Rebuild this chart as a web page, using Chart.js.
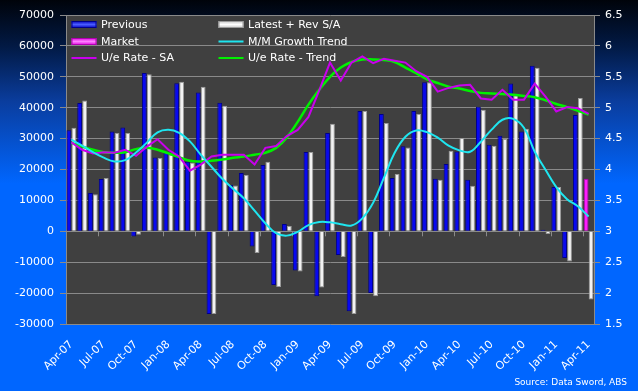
<!DOCTYPE html>
<html>
<head>
<meta charset="utf-8">
<script src="https://cdn.jsdelivr.net/npm/chart.js@4.4.1/dist/chart.umd.min.js"></script>
<style>
  html, body { margin: 0; padding: 0; background: #0066ff; }
  #wrap { position: relative; width: 638px; height: 391px; }
  canvas { display: block; }
</style>
</head>
<body>
<div id="wrap"><canvas id="c" width="638" height="391"></canvas></div>
<script>
const categories = ['Apr-07','May-07','Jun-07','Jul-07','Aug-07','Sep-07','Oct-07','Nov-07','Dec-07',
  'Jan-08','Feb-08','Mar-08','Apr-08','May-08','Jun-08','Jul-08','Aug-08','Sep-08','Oct-08','Nov-08','Dec-08',
  'Jan-09','Feb-09','Mar-09','Apr-09','May-09','Jun-09','Jul-09','Aug-09','Sep-09','Oct-09','Nov-09','Dec-09',
  'Jan-10','Feb-10','Mar-10','Apr-10','May-10','Jun-10','Jul-10','Aug-10','Sep-10','Oct-10','Nov-10','Dec-10',
  'Jan-11','Feb-11','Mar-11','Apr-11'];

const xTickLabels = ['Apr-07','Jul-07','Oct-07','Jan-08','Apr-08','Jul-08','Oct-08','Jan-09','Apr-09',
  'Jul-09','Oct-09','Jan-10','Apr-10','Jul-10','Oct-10','Jan-11','Apr-11'];
const leftTicks = [-30000,-20000,-10000,0,10000,20000,30000,40000,50000,60000,70000];
const rightTicks = [1.5,2,2.5,3,3.5,4,4.5,5,5.5,6,6.5];

const previous = [32700,41500,12400,16900,32300,33600,-1650,51200,23900,25500,47900,22500,44950,-26800,41600,15100,18900,-4900,21450,-17400,2350,
  -12650,25650,-21050,31800,-7700,-25900,38900,-19970,38000,17250,27500,38900,
  48200,17000,21800,25860,16700,40300,28000,30900,47800,32300,53600,500,
  14350,-8650,37650,null];
const latest = [33500,42300,11950,17250,31800,31800,-1100,50800,23700,24800,48400,22300,46800,-26800,40650,14850,18200,-7000,22500,-18000,1700,
  -13000,25650,-18150,34800,-8300,-26800,38900,-21050,35050,18550,27150,38000,
  48200,16700,26100,30200,14750,39350,27700,29870,44000,33200,52950,-900,
  14350,-9750,43100,-22100];
const market = [null,null,null,null,null,null,null,null,null,null,null,null,null,null,null,null,null,null,null,null,null,
  null,null,null,null,null,null,null,null,null,null,null,null,
  null,null,null,null,null,null,null,null,null,null,null,null,
  null,null,null,17000];
const mmGrowthTrend = [29640,27700,25600,23820,22620,23010,25470,28700,32040,32850,31880,29090,24790,20900,17000,13800,10700,6700,2600,-600,-1400,
  -200,2000,3000,2900,2300,1900,4200,9200,17300,25400,30600,32650,
  32100,30300,27700,26200,25760,29000,32900,36100,36400,33500,25760,19900,
  14300,10400,8100,4800];
const ueRateSA = [4.44,4.32,4.26,4.28,4.27,4.32,4.22,4.37,4.49,4.32,4.21,3.98,4.08,4.21,4.24,4.24,4.24,4.08,4.35,4.38,4.54,
  4.64,4.85,5.28,5.73,5.44,5.73,5.83,5.72,5.79,5.76,5.73,5.59,
  5.50,5.26,5.32,5.36,5.37,5.15,5.13,5.29,5.13,5.13,5.39,5.18,
  4.94,5.01,4.99,4.90];
const ueRateTrend = [4.43,4.37,4.32,4.28,4.27,4.28,4.33,4.35,4.32,4.26,4.20,4.14,4.13,4.14,4.16,4.19,4.21,4.24,4.27,4.35,4.52,
  4.77,5.05,5.29,5.50,5.65,5.74,5.78,5.78,5.77,5.74,5.65,5.56,
  5.46,5.40,5.34,5.31,5.27,5.24,5.23,5.22,5.21,5.19,5.17,5.12,
  5.06,5.01,4.95,4.89];

const FONT = 'DejaVu Sans';
const GRID = '#8a8a8a';

const bgPlugin = {
  id: 'bg',
  beforeDraw(chart) {
    const {ctx, width, height, chartArea} = chart;
    ctx.save();
    const g = ctx.createLinearGradient(0, 0, 0, height);
    g.addColorStop(0, '#00030a');
    g.addColorStop(0.12, '#021a45');
    g.addColorStop(0.26, '#0a3d9e');
    g.addColorStop(0.47, '#0066ff');
    g.addColorStop(1, '#0066ff');
    ctx.fillStyle = g;
    ctx.fillRect(0, 0, width, height);
    ctx.fillStyle = '#404040';
    ctx.fillRect(chartArea.left, chartArea.top, chartArea.right - chartArea.left, chartArea.bottom - chartArea.top);
    ctx.restore();
  },
  beforeDatasetsDraw(chart) {
    // category tick marks on the zero line
    const {ctx} = chart;
    const xs = chart.scales.x, ys = chart.scales.y;
    const y0 = ys.getPixelForValue(0);
    ctx.save();
    ctx.strokeStyle = GRID;
    ctx.lineWidth = 1;
    for (let i = 3; i < categories.length; i += 3) {
      const x = Math.round((xs.getPixelForValue(i - 1) + xs.getPixelForValue(i)) / 2) + 0.5;
      ctx.beginPath();
      ctx.moveTo(x, y0);
      ctx.lineTo(x, y0 + 5);
      ctx.stroke();
    }
    ctx.restore();
  },
  afterDatasetsDraw(chart) {
    const {ctx} = chart;
    const ds = chart.data.datasets;
    const cols = [71.5, 218.5];
    const textX = [101, 248];
    const rows = [24.5, 41.5, 58];
    ctx.save();
    ds.forEach((d, i) => {
      const col = i % 2, row = Math.floor(i / 2);
      const x = cols[col], y = rows[row];
      if (d.type === 'bar') {
        const g = ctx.createLinearGradient(0, y - 3.5, 0, y + 3.5);
        g.addColorStop(0, d.legendEdge);
        g.addColorStop(0.5, d.legendMid);
        g.addColorStop(1, d.legendEdge);
        ctx.fillStyle = g;
        ctx.fillRect(x, y - 3.5, 25, 7);
        ctx.strokeStyle = d.borderColor;
        ctx.lineWidth = 1;
        ctx.strokeRect(x + 0.5, y - 3, 24, 6);
      } else {
        ctx.strokeStyle = d.borderColor;
        ctx.lineWidth = 2;
        ctx.beginPath();
        ctx.moveTo(x, y);
        ctx.lineTo(x + 25, y);
        ctx.stroke();
      }
      ctx.fillStyle = '#ffffff';
      ctx.font = '11px "' + FONT + '"';
      ctx.textBaseline = 'middle';
      ctx.textAlign = 'left';
      ctx.fillText(d.label, textX[col], y + 0.5);
    });
    ctx.font = '9px "' + FONT + '"';
    ctx.textAlign = 'right';
    ctx.textBaseline = 'alphabetic';
    ctx.fillStyle = '#ffffff';
    ctx.fillText('Source: Data Sword, ABS', 627, 385);
    ctx.restore();
  }
};

new Chart(document.getElementById('c'), {
  data: {
    labels: categories,
    datasets: [
      { type: 'bar', label: 'Previous', data: previous, stack: 'a', yAxisID: 'y', order: 2,
        backgroundColor: '#0808f0', borderColor: '#00008a', borderWidth: 1,
        legendEdge: '#0000c0', legendMid: '#4a5cff',
        categoryPercentage: 0.92, barPercentage: 0.97 },
      { type: 'bar', label: 'Latest + Rev S/A', data: latest, stack: 'b', yAxisID: 'y', order: 2,
        backgroundColor: '#f2f2f2', borderColor: '#9a9a9a', borderWidth: 1,
        legendEdge: '#c8c8c8', legendMid: '#ffffff',
        categoryPercentage: 0.92, barPercentage: 0.97 },
      { type: 'bar', label: 'Market', data: market, stack: 'a', yAxisID: 'y', order: 2,
        backgroundColor: '#ff1cff', borderColor: '#b000b0', borderWidth: 1,
        legendEdge: '#e000e0', legendMid: '#ff80ff',
        categoryPercentage: 0.92, barPercentage: 0.97 },
      { type: 'line', label: 'M/M Growth Trend', data: mmGrowthTrend, stack: 'cyan', yAxisID: 'y', order: 0,
        borderColor: '#1ee6f0', borderWidth: 2, pointRadius: 0, tension: 0.4, fill: false },
      { type: 'line', label: 'U/e Rate - SA', data: ueRateSA, yAxisID: 'y2', order: 0,
        borderColor: '#c800ec', borderWidth: 2, pointRadius: 0, tension: 0, fill: false },
      { type: 'line', label: 'U/e Rate - Trend', data: ueRateTrend, yAxisID: 'y2', order: 0,
        borderColor: '#00f000', borderWidth: 2.5, pointRadius: 0, tension: 0.4, fill: false }
    ]
  },
  options: {
    responsive: false,
    animation: false,
    layout: { padding: { top: 15, left: 0, right: 0, bottom: 0 } },
    plugins: { legend: { display: false }, tooltip: { enabled: false } },
    scales: {
      x: {
        stacked: true,
        offset: true,
        grid: { display: false, drawTicks: false },
        border: { display: false },
        ticks: {
          autoSkip: false, minRotation: 45, maxRotation: 45, padding: 14,
          color: '#ffffff', font: { family: FONT, size: 11 },
          callback: function(value, index) {
            const lab = categories[index];
            return xTickLabels.includes(lab) ? lab : '';
          }
        },
        afterFit(scale) { scale.height = 67; }
      },
      y: {
        position: 'left',
        stacked: true,
        min: -30000, max: 70000,
        afterBuildTicks(scale) { scale.ticks = leftTicks.map(v => ({ value: v })); },
        grid: { color: GRID, lineWidth: 1, tickLength: 6, drawTicks: true },
        border: { display: true, color: GRID },
        ticks: { color: '#ffffff', padding: 6, font: { family: FONT, size: 11 },
          callback: v => String(v) },
        afterFit(scale) { scale.width = 66; }
      },
      y2: {
        position: 'right',
        min: 1.5, max: 6.5,
        afterBuildTicks(scale) { scale.ticks = rightTicks.map(v => ({ value: v })); },
        grid: { drawOnChartArea: false, color: GRID, tickLength: 6, drawTicks: true },
        border: { display: true, color: GRID },
        ticks: { color: '#ffffff', padding: 5, font: { family: FONT, size: 11 },
          callback: v => String(v) },
        afterFit(scale) { scale.width = 44; }
      }
    }
  },
  plugins: [bgPlugin]
});
</script>
</body>
</html>
